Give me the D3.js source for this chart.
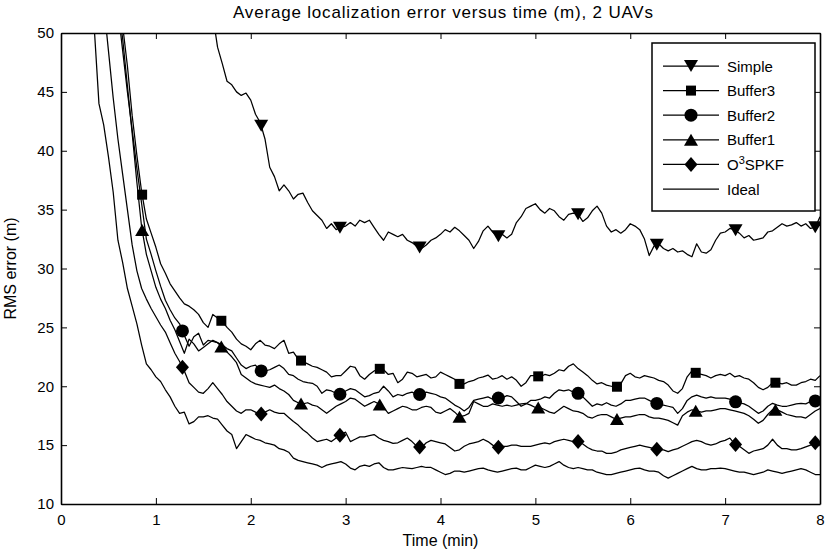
<!DOCTYPE html>
<html>
<head>
<meta charset="utf-8">
<script src="https://cdn.jsdelivr.net/npm/d3@7"></script>
<style>
  body { margin: 0; background: #fff; }
  text { font-family: "Liberation Sans", Arial, sans-serif; fill: #000; }
</style>
</head>
<body>
<svg id="chart" width="827" height="556"></svg>
<script>
// time axis, one sample every 0.05 min (one row = one minute)
var times = d3.range(0, 161).map(function(i) { return i / 20; });

var simple = [
  165,160,155,150,145,140,135,130,125,120,115,110,105,100,96,92,88,85,82,79,
  76,74,72,70,68,66,64,62.5,61,59,57,54.5,51.5,48.8,47.4,45.9,45.6,45.0,44.7,44.9,
  44.3,43.1,42.4,41.0,38.6,37.8,36.6,37.1,36.6,35.9,36.3,36.4,35.6,34.9,34.5,34.1,33.4,33.8,33.3,33.5,
  33.6,33.9,33.6,34.1,33.9,34.1,33.5,32.9,32.4,33.1,32.9,32.7,32.9,32.4,32.2,31.9,31.7,32.0,32.4,32.6,
  32.9,33.3,33.1,33.5,33.2,32.8,32.4,31.7,32.3,33.2,33.6,33.1,32.7,32.9,32.6,32.9,33.9,34.4,35.1,35.3,
  35.5,35.0,34.7,35.1,34.9,34.4,34.1,34.6,34.7,34.6,34.0,34.3,34.9,35.3,34.7,33.6,33.1,33.3,33.0,33.3,
  33.8,33.6,33.3,32.5,31.1,31.9,32.1,31.7,31.5,31.7,31.4,31.5,31.2,31.0,32.1,31.4,31.3,31.6,32.4,33.0,
  33.1,33.4,33.3,33.0,32.6,32.8,32.4,32.5,32.6,33.1,33.2,33.5,33.8,33.6,33.7,33.9,33.6,33.8,33.4,33.5,
  34.4];

var buffer3 = [
  140,130,120,110,100,92,85,78,72,67,62,58,54,50.6,47.2,43.0,39.6,36.5,34.2,33.0,
  31.8,30.4,29.6,28.7,28.1,27.5,27.0,26.8,26.5,26.1,25.4,25.0,26.1,25.8,25.5,25.0,24.6,24.0,23.6,23.4,
  23.1,23.6,23.9,23.5,23.4,23.2,23.6,23.9,22.8,22.9,22.3,22.1,21.9,21.7,21.6,21.4,21.2,20.8,20.9,20.9,
  21.3,21.7,21.6,20.9,20.6,21.0,21.3,21.5,21.4,21.0,21.1,20.3,20.6,21.2,21.1,20.8,20.9,21.0,20.7,20.8,
  21.2,21.0,20.8,20.6,20.2,20.2,20.4,20.5,20.7,20.8,20.95,20.6,20.7,20.9,20.6,20.8,20.5,20.0,20.3,20.9,
  20.9,20.8,21.0,20.9,21.1,21.4,21.3,21.7,21.9,21.5,21.2,20.9,20.5,20.2,20.3,20.1,20.0,19.9,20.2,20.9,
  21.1,20.8,20.7,20.9,20.8,20.7,20.5,20.4,20.1,19.6,19.4,19.8,20.8,21.3,21.1,21.0,20.9,20.7,20.9,21.0,
  20.9,21.1,20.8,20.9,20.7,20.6,20.3,19.9,19.7,19.9,20.3,20.3,20.2,20.3,20.1,20.1,20.3,20.4,20.6,20.5,
  20.9];

var buffer2 = [
  140,129,118,108,98,90,82,76,70,65,60,56,52,48.5,45,41.8,38.5,35.5,32.5,31.2,
  29.8,28.5,27.3,26.5,25.8,25.3,24.3,23.4,24.2,24.5,23.5,23.9,23.8,23.7,23.5,23.2,23.0,22.4,21.8,21.5,
  21.7,21.8,21.3,21.3,21.4,21.6,21.8,21.5,21.0,20.9,20.6,20.4,20.3,20.25,20.0,19.4,19.7,19.6,19.4,19.3,
  19.6,19.8,19.7,19.4,19.1,19.2,19.4,19.5,20.0,19.6,19.1,19.3,19.2,19.4,19.5,19.3,19.3,19.5,19.4,19.3,
  19.1,19.0,18.7,18.4,18.2,17.9,18.2,18.8,18.9,19.0,19.1,18.9,19.0,19.0,19.2,19.1,18.7,18.3,18.5,18.8,
  18.8,18.9,19.1,19.0,19.4,19.7,19.6,19.7,19.5,19.4,19.1,18.7,18.3,18.5,18.4,18.6,18.4,18.3,18.5,18.8,
  18.8,18.9,19.0,19.0,18.8,18.6,18.5,18.4,18.3,18.2,17.7,18.1,18.8,19.1,19.25,19.1,19.0,19.1,19.0,19.0,
  19.0,18.9,18.7,18.6,18.5,18.3,18.0,17.7,17.9,18.3,18.55,18.4,18.3,18.3,18.4,18.5,18.55,18.5,18.7,18.75,
  18.8];

var buffer1 = [
  135,125,115,105,95,87,80,74,68,63,58,55,52.5,49.5,45.5,41.5,37.3,33.5,31.2,29.8,
  28.4,27.4,26.6,25.6,24.8,23.8,22.8,24.0,23.6,23.0,23.3,23.6,23.9,23.7,23.3,22.9,22.5,22.0,21.0,20.7,
  20.4,20.2,20.1,20.0,19.9,20.1,19.8,19.6,19.3,18.8,18.6,18.5,18.6,18.4,18.3,18.0,17.7,18.0,18.3,18.5,
  18.7,19.0,18.9,18.6,18.3,18.5,18.7,18.5,18.2,17.7,17.9,18.1,18.3,18.2,18.0,18.0,18.2,18.3,18.2,17.8,
  17.7,17.9,18.1,17.8,17.4,17.5,17.7,18.7,18.5,18.3,18.3,18.5,18.4,18.3,18.4,18.3,18.4,18.5,18.55,18.4,
  18.2,18.2,18.0,17.8,17.7,18.0,18.3,18.1,17.9,17.85,17.7,17.4,17.3,17.5,17.6,17.6,17.4,17.2,17.3,17.4,
  17.4,17.5,17.6,17.6,17.4,17.3,17.3,17.2,17.1,16.9,16.7,17.5,17.8,18.0,17.9,17.8,17.9,17.9,18.0,18.1,
  18.1,18.0,17.9,17.8,17.7,17.5,17.2,16.85,17.1,17.6,18.0,18.0,17.8,17.6,17.5,17.4,17.4,17.3,17.6,17.9,
  18.1];

var o3spkf = [
  125,112,100,90,82,74,68,62,57,52.5,48.5,44.5,41,38,35,32,29.8,28.3,27.4,26.6,
  25.9,25.2,24.6,23.7,22.8,22.1,21.3,20.3,19.9,19.5,19.4,19.8,20.3,19.8,19.3,18.7,18.3,17.9,17.7,18.0,
  18.0,17.8,17.6,17.8,18.0,17.8,17.7,17.7,17.35,17.0,16.7,16.3,16.0,15.6,15.3,15.4,15.5,15.3,15.6,15.9,
  16.1,15.3,15.5,15.7,15.7,15.8,15.9,15.6,15.4,15.3,15.15,15.2,15.4,15.6,15.3,14.9,14.8,15.2,15.4,15.3,
  15.2,15.1,14.8,14.5,14.6,14.9,15.1,15.2,15.3,15.5,15.3,15.0,14.8,14.9,14.9,15.0,15.0,14.9,14.9,14.9,
  15.0,15.1,15.2,15.1,15.3,15.4,15.5,15.4,15.3,15.3,15.1,14.8,14.6,14.5,14.5,14.3,14.3,14.4,14.6,14.7,
  14.8,14.9,15.0,14.9,14.8,14.7,14.6,14.6,14.45,14.6,14.7,14.9,15.1,15.3,15.4,15.3,15.1,15.0,15.1,15.3,
  15.4,15.6,15.1,14.9,14.6,14.3,14.5,14.6,14.7,15.0,15.5,15.0,14.7,14.7,14.6,14.6,14.7,14.85,15.0,15.2,
  15.2];

var ideal = [
  130,110,95,82,70,62,56.5,50.5,44.0,42.2,39.5,36.5,32.4,30.5,28.3,26.8,25.3,23.5,21.9,21.4,
  20.8,20.4,19.7,19.1,18.3,17.7,17.8,16.8,17.0,17.4,17.4,17.5,17.3,17.2,16.7,16.2,15.9,14.7,15.3,15.9,
  15.7,15.5,15.4,15.2,15.1,15.0,14.7,14.6,14.4,13.9,13.7,13.6,13.5,13.4,13.3,13.1,13.3,13.4,13.5,13.6,
  13.4,13.05,12.9,13.2,13.3,13.2,13.4,13.5,13.1,12.9,12.9,13.0,13.1,13.05,13.0,13.1,13.2,13.1,13.1,12.9,
  12.7,12.5,12.6,12.8,12.8,12.7,12.8,12.9,13.0,13.05,12.9,12.8,12.7,12.8,12.9,13.0,13.05,12.9,12.9,13.1,
  13.3,13.2,13.1,13.2,13.4,13.6,13.3,13.1,13.0,13.1,13.0,12.9,12.9,12.7,12.6,12.5,12.5,12.6,12.7,12.8,
  12.9,13.0,13.05,12.9,12.8,12.8,12.7,12.4,12.2,12.4,12.6,12.8,13.0,13.2,13.0,12.9,12.9,13.0,13.0,13.05,
  13.0,12.9,12.8,12.7,12.7,12.6,12.5,12.6,12.7,12.9,12.8,12.7,12.6,12.7,12.8,12.9,13.0,12.9,12.7,12.5,
  12.5];

// times where each curve carries a marker
var markA = [0.855, 1.69, 2.53, 3.36, 4.20, 5.03, 5.86, 6.69, 7.53];
var markB = [1.28, 2.11, 2.94, 3.78, 4.61, 5.45, 6.28, 7.11, 7.95];
var markC = [2.11, 2.94, 3.78, 4.61, 5.45, 6.28, 7.11, 7.95];

var xTicks = [0, 1, 2, 3, 4, 5, 6, 7, 8];
var yTicks = [10, 15, 20, 25, 30, 35, 40, 45, 50];

var series = [
  { name: "Simple",  values: simple,  marks: markC, shape: "tridown" },
  { name: "Buffer3", values: buffer3, marks: markA, shape: "square" },
  { name: "Buffer2", values: buffer2, marks: markB, shape: "circle" },
  { name: "Buffer1", values: buffer1, marks: markA, shape: "triup" },
  { name: "O3SPKF",  values: o3spkf,  marks: markB, shape: "diamond" },
  { name: "Ideal",   values: ideal,   marks: [],    shape: null }
];

var svg = d3.select("#chart");
var pLeft = 61, pRight = 820, pTop = 33, pBottom = 504;

var x = d3.scaleLinear().domain([0, 8]).range([pLeft, pRight]);
var y = d3.scaleLinear().domain([10, 50]).range([pBottom, pTop]);

// marker outlines
var shapes = {
  tridown: "M-7,-6L7,-6L0,6Z",
  triup: "M-7,6L7,6L0,-6Z",
  square: "M-5,-5L5,-5L5,5L-5,5Z",
  circle: "M6.5,0A6.5,6.5 0 1,1 -6.5,0A6.5,6.5 0 1,1 6.5,0Z",
  diamond: "M0,-7.5L6.5,0L0,7.5L-6.5,0Z"
};

svg.append("defs").append("clipPath").attr("id", "plotclip")
  .append("rect").attr("x", pLeft).attr("y", pTop)
  .attr("width", pRight - pLeft).attr("height", pBottom - pTop);

var line = d3.line()
  .x(function(d, i) { return x(times[i]); })
  .y(function(d) { return y(d); });

// value of a curve at time t
function valueAt(vals, t) {
  var i = d3.bisectLeft(times, t);
  if (i <= 0) return vals[0];
  var t0 = times[i - 1], t1 = times[i];
  var f = (t - t0) / (t1 - t0);
  return vals[i - 1] + f * (vals[i] - vals[i - 1]);
}

var plot = svg.append("g").attr("clip-path", "url(#plotclip)");

series.forEach(function(s) {
  plot.append("path")
    .datum(s.values)
    .attr("d", line)
    .attr("fill", "none")
    .attr("stroke", "#000")
    .attr("stroke-width", 1.25)
    .attr("stroke-linejoin", "round");
});

series.forEach(function(s) {
  if (!s.shape) return;
  plot.selectAll(null)
    .data(s.marks)
    .enter().append("path")
    .attr("d", shapes[s.shape])
    .attr("transform", function(t) { return "translate(" + x(t) + "," + y(valueAt(s.values, t)) + ")"; })
    .attr("fill", "#000");
});

// axes box with inward ticks on all four sides
var bottomAxis = d3.axisBottom(x).tickValues(xTicks).tickSizeInner(-6).tickSizeOuter(0).tickPadding(10);
var topAxis = d3.axisTop(x).tickValues(xTicks).tickSizeInner(-6).tickSizeOuter(0).tickFormat("");
var leftAxis = d3.axisLeft(y).tickValues(yTicks).tickSizeInner(-6).tickSizeOuter(0).tickPadding(7);
var rightAxis = d3.axisRight(y).tickValues(yTicks).tickSizeInner(-6).tickSizeOuter(0).tickFormat("");

function styleAxis(g) {
  g.select(".domain").attr("stroke", "#000").attr("stroke-width", 1.6);
  g.selectAll(".tick line").attr("stroke", "#000").attr("stroke-width", 1);
  g.selectAll(".tick text").style("font-size", "15px").attr("fill", "#000");
}

svg.append("g").attr("transform", "translate(0," + pBottom + ")").call(bottomAxis).call(styleAxis);
svg.append("g").attr("transform", "translate(0," + pTop + ")").call(topAxis).call(styleAxis);
svg.append("g").attr("transform", "translate(" + pLeft + ",0)").call(leftAxis).call(styleAxis);
svg.append("g").attr("transform", "translate(" + pRight + ",0)").call(rightAxis).call(styleAxis);

svg.append("text")
  .attr("x", 443).attr("y", 18)
  .attr("text-anchor", "middle").style("font-size", "17px")
  .attr("textLength", 420).attr("lengthAdjust", "spacing")
  .text("Average localization error versus time (m), 2 UAVs");

svg.append("text")
  .attr("x", (pLeft + pRight) / 2).attr("y", 546)
  .attr("text-anchor", "middle").style("font-size", "16px")
  .text("Time (min)");

svg.append("text")
  .attr("transform", "translate(16," + ((pTop + pBottom) / 2) + ") rotate(-90)")
  .attr("text-anchor", "middle").style("font-size", "16px")
  .text("RMS error (m)");

// legend
var legend = svg.append("g");
legend.append("rect")
  .attr("x", 652).attr("y", 43).attr("width", 163).attr("height", 168)
  .attr("fill", "#fff").attr("stroke", "#000").attr("stroke-width", 1.5);

series.forEach(function(s, i) {
  var ly = 66 + i * 24.6;
  legend.append("line")
    .attr("x1", 663).attr("x2", 719).attr("y1", ly).attr("y2", ly)
    .attr("stroke", "#000").attr("stroke-width", 1.25);
  if (s.shape) {
    legend.append("path").attr("d", shapes[s.shape])
      .attr("transform", "translate(691," + ly + ")").attr("fill", "#000");
  }
  var t = legend.append("text")
    .attr("x", 727).attr("y", ly + 5.5).style("font-size", "15px");
  if (s.name === "O3SPKF") {
    t.append("tspan").text("O");
    t.append("tspan").attr("dy", -6).style("font-size", "11px").text("3");
    t.append("tspan").attr("dy", 6).text("SPKF");
  } else {
    t.text(s.name);
  }
});
</script>
</body>
</html>
